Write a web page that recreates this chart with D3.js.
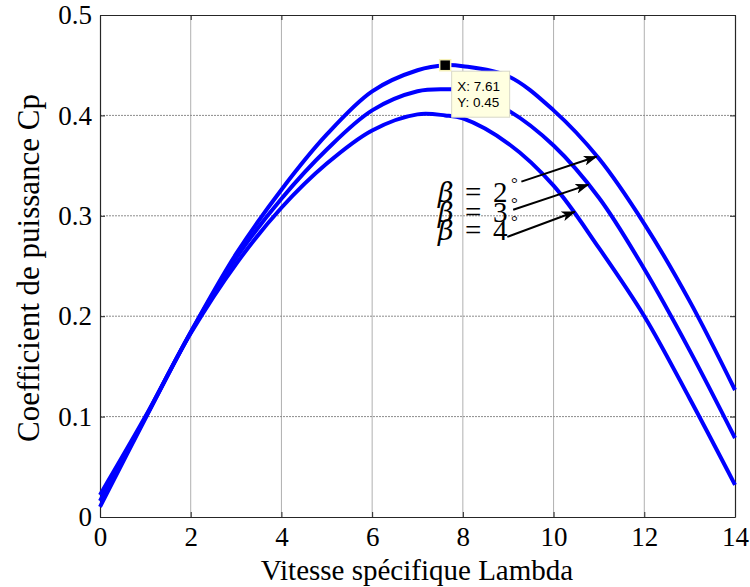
<!DOCTYPE html>
<html>
<head>
<meta charset="utf-8">
<script src="https://cdn.jsdelivr.net/npm/d3@7/dist/d3.min.js"></script>
<style>
  html, body { margin: 0; padding: 0; background: #fff; }
  svg { display: block; }
</style>
</head>
<body>
<svg id="chart" width="750" height="587"></svg>
<script>
// ---- data ----
const lambda      = [0, 1, 2, 3, 4, 5, 6, 7, 7.61, 8, 9, 10, 11, 12, 13, 14];
const cpBeta2     = [0.010, 0.098, 0.184, 0.262, 0.326, 0.381, 0.424, 0.445, 0.450, 0.449, 0.439, 0.405, 0.357, 0.292, 0.215, 0.1265];
const cpBeta3     = [0.016, 0.099, 0.184, 0.258, 0.317, 0.366, 0.405, 0.424, 0.426, 0.425, 0.405, 0.370, 0.318, 0.247, 0.166, 0.0787];
const cpBeta4     = [0.022, 0.100, 0.183, 0.252, 0.308, 0.352, 0.385, 0.401, 0.400, 0.397, 0.372, 0.330, 0.268, 0.200, 0.118, 0.032];
const seriesNames = ["\u03b2 = 2\u00b0", "\u03b2 = 3\u00b0", "\u03b2 = 4\u00b0"];
const xTicks      = [0, 2, 4, 6, 8, 10, 12, 14];
const yTicks      = [0, 0.1, 0.2, 0.3, 0.4, 0.5];
const xTickLabels = ["0", "2", "4", "6", "8", "10", "12", "14"];
const yTickLabels = ["0", "0.1", "0.2", "0.3", "0.4", "0.5"];
const dataTip     = {x: 7.61, y: 0.45};
// annotation arrows: start (label side) and tip on curve, in data units
const arrowStartX = [9.29, 9.11, 8.98];
const arrowStartY = [0.334, 0.306, 0.279];
const arrowTipX   = [10.95, 10.77, 10.47];
const arrowTipY   = [0.359, 0.331, 0.304];
const labelX      = [7.45, 7.45, 7.45];
const labelY      = [0.314, 0.294, 0.276];

// ---- layout ----
const svg = d3.select("#chart");
const L = 100, R = 735, T = 15, B = 517;
const x = d3.scaleLinear().domain([0, 14]).range([L, R]);
const y = d3.scaleLinear().domain([0, 0.5]).range([B, T]);

// grid
const grid = svg.append("g");
grid.selectAll("line.vg").data(xTicks.slice(1, -1)).join("line")
  .attr("x1", d => x(d)).attr("x2", d => x(d)).attr("y1", T).attr("y2", B)
  .attr("stroke", "#b0b0b0").attr("stroke-width", 1);
grid.selectAll("line.hg").data(yTicks.slice(1, -1)).join("line")
  .attr("x1", L).attr("x2", R).attr("y1", d => y(d)).attr("y2", d => y(d))
  .attr("stroke", "#8c8c8c").attr("stroke-width", 1).attr("stroke-dasharray", "2,1");

// axes (MATLAB-like box with inward ticks)
const font = "'Liberation Serif', 'Times New Roman', serif";
const axB = d3.axisBottom(x).tickValues(xTicks).tickFormat((d, i) => xTickLabels[i]).tickSizeInner(-5).tickSizeOuter(0).tickPadding(10);
const axL = d3.axisLeft(y).tickValues(yTicks).tickFormat((d, i) => yTickLabels[i]).tickSizeInner(-5).tickSizeOuter(0).tickPadding(8);
const axT = d3.axisTop(x).tickValues(xTicks).tickFormat("").tickSizeInner(-5).tickSizeOuter(0);
const axR = d3.axisRight(y).tickValues(yTicks).tickFormat("").tickSizeInner(-5).tickSizeOuter(0);

function styleAxis(g) {
  g.select(".domain").attr("stroke", "#262626").attr("stroke-width", 1.2);
  g.selectAll(".tick line").attr("stroke", "#262626");
  g.selectAll(".tick text").attr("fill", "#000").style("font-family", font).style("font-size", "27px");
}
svg.append("g").attr("transform", `translate(0,${B})`).call(axB).call(styleAxis);
svg.append("g").attr("transform", `translate(${L},0)`).call(axL).call(styleAxis);
svg.append("g").attr("transform", `translate(0,${T})`).call(axT).call(styleAxis);
svg.append("g").attr("transform", `translate(${R},0)`).call(axR).call(styleAxis);

// axis labels
svg.append("text").attr("x", 417).attr("y", 580).attr("text-anchor", "middle")
  .style("font-family", font).style("font-size", "29px").text("Vitesse sp\u00e9cifique Lambda");
svg.append("text").attr("transform", `translate(39,${(T + B) / 2 + 2}) rotate(-90)`).attr("text-anchor", "middle")
  .style("font-family", font).style("font-size", "31px").text("Coefficient de puissance Cp");

// curves
const series = [cpBeta2, cpBeta3, cpBeta4];
const line = d3.line().x(d => x(d[0])).y(d => y(d[1])).curve(d3.curveCatmullRom.alpha(0.5));
svg.append("g").selectAll("path").data(series).join("path")
  .attr("d", s => line(lambda.map((l, i) => [l, s[i]])))
  .attr("fill", "none").attr("stroke", "#0000ff").attr("stroke-width", 4).attr("stroke-linejoin", "round");

// data tip
svg.append("rect").attr("x", x(dataTip.x) - 5.5).attr("y", y(dataTip.y) - 5.5).attr("width", 11).attr("height", 11)
  .attr("fill", "#000").attr("stroke", "#f5f0b8").attr("stroke-width", 1.5);
const tipG = svg.append("g").attr("transform", `translate(${x(dataTip.x) + 6},${y(dataTip.y) + 5.5})`);
tipG.append("rect").attr("x", 0.5).attr("y", 0.5).attr("width", 58).attr("height", 46)
  .attr("fill", "#ffffe1").attr("stroke", "#d8d8c8").attr("stroke-width", 1);
tipG.append("text").attr("x", 6).attr("y", 20).style("font-family", "'Liberation Sans', Arial, sans-serif")
  .style("font-size", "13.5px").attr("fill", "#000").text("X: " + dataTip.x.toFixed(2));
tipG.append("text").attr("x", 6).attr("y", 36).style("font-family", "'Liberation Sans', Arial, sans-serif")
  .style("font-size", "13.5px").attr("fill", "#000").text("Y: " + dataTip.y.toFixed(2));

// annotations
const defs = svg.append("defs");
defs.append("marker").attr("id", "arr").attr("viewBox", "0 0 14 10").attr("refX", 13).attr("refY", 5)
  .attr("markerWidth", 14).attr("markerHeight", 10).attr("markerUnits", "userSpaceOnUse").attr("orient", "auto")
  .append("path").attr("d", "M0,0 L14,5 L0,10 L3.5,5 Z").attr("fill", "#000");
const ann = svg.append("g");
arrowStartX.forEach((sx, i) => {
  ann.append("line").attr("x1", x(sx)).attr("y1", y(arrowStartY[i])).attr("x2", x(arrowTipX[i])).attr("y2", y(arrowTipY[i]))
    .attr("stroke", "#000").attr("stroke-width", 2).attr("marker-end", "url(#arr)");
});
const mathFont = "'DejaVu Serif', 'Liberation Serif', serif";
seriesNames.forEach((name, i) => {
  const parts = name.split(" "); // ["β", "=", "2°"]
  const bx = x(labelX[i]), by = y(labelY[i]);
  const t = ann.append("text").attr("x", bx).attr("y", by).style("font-family", font).style("font-size", "29px").attr("fill", "#000");
  t.append("tspan").style("font-style", "italic").style("font-family", mathFont).style("font-size", "27px").text(parts[0]);
  t.append("tspan").attr("x", bx + 27).text(parts[1]);
  t.append("tspan").attr("x", bx + 55).text(parts[2].replace("\u00b0", ""));
  t.append("tspan").attr("x", bx + 73).attr("dy", -13).style("font-size", "17px").text("\u00b0");
});
</script>
</body>
</html>
